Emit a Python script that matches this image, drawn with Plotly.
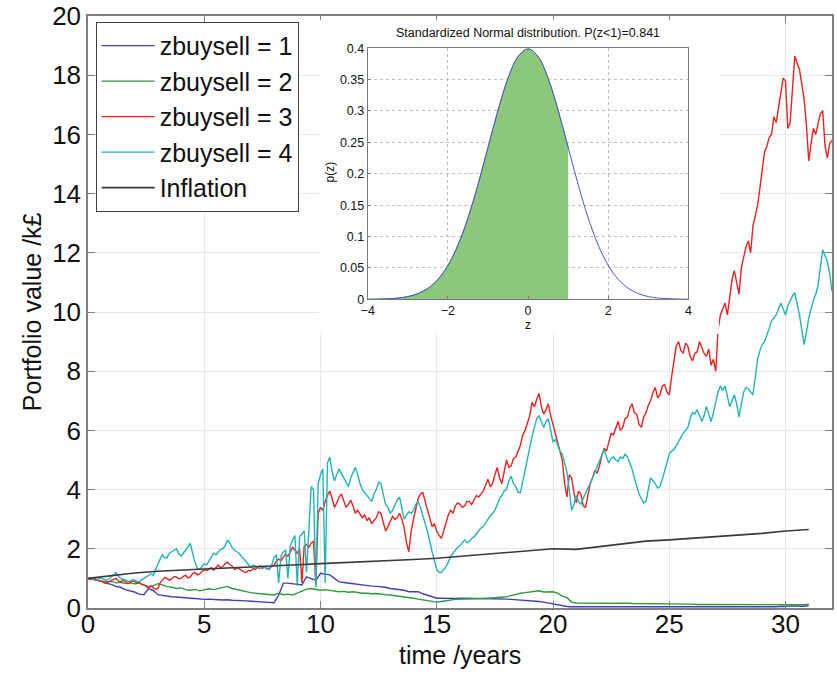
import plotly.graph_objects as go

# ---------------- data ----------------
years = [round(0.2 * i, 1) for i in range(161)]        # grid for zbuysell 1, 2
years_fine = [round(0.1 * i, 1) for i in range(321)]   # grid for zbuysell 3, 4

z1_values = [  # zbuysell = 1
    1.00, 0.97, 0.93, 0.90, 0.83,  0.80, 0.73, 0.70, 0.62, 0.58,
    0.54, 0.47, 0.45, 0.65, 0.60,  0.45, 0.42, 0.40, 0.38, 0.37,
    0.35, 0.34, 0.33, 0.32, 0.30,  0.29, 0.30, 0.28, 0.28, 0.27,
    0.28, 0.26, 0.26, 0.25, 0.24,  0.23, 0.22, 0.21, 0.20, 0.19,
    0.18, 0.43, 0.84, 0.84, 0.82,  0.80, 0.78, 1.05, 0.98, 0.93,
    1.17, 1.15, 1.12, 1.00, 0.88,  0.86, 0.84, 0.80, 0.78, 0.77,
    0.76, 0.74, 0.73, 0.72, 0.70,  0.66, 0.64, 0.62, 0.60, 0.55,
    0.56, 0.55, 0.48, 0.43, 0.37,  0.33, 0.33, 0.32, 0.33, 0.32,
    0.33, 0.32, 0.33, 0.32, 0.32,  0.32, 0.31, 0.31, 0.30, 0.30,
    0.30, 0.29, 0.28, 0.28, 0.27,  0.25, 0.24, 0.22, 0.20, 0.17,
    0.15, 0.11, 0.07, 0.05, 0.04,  0.04, 0.03, 0.04, 0.03, 0.04,
    0.03, 0.04, 0.03, 0.03, 0.04,  0.03, 0.03, 0.04, 0.03, 0.03,
    0.03, 0.04, 0.03, 0.03, 0.03,  0.04, 0.03, 0.03, 0.04, 0.03,
    0.03, 0.03, 0.04, 0.03, 0.03,  0.04, 0.03, 0.03, 0.04, 0.03,
    0.03, 0.04, 0.03, 0.04, 0.03,  0.04, 0.03, 0.05, 0.04, 0.06,
    0.05, 0.07, 0.06, 0.07, 0.06,  0.08,
]

z2_values = [  # zbuysell = 2
    1.00, 0.97, 0.95, 0.92, 0.88,  0.90, 0.85, 0.87, 0.83, 0.85,
    0.82, 0.84, 0.78, 0.72, 0.75,  0.82, 0.78, 0.72, 0.70, 0.66,
    0.68, 0.62, 0.60, 0.63, 0.58,  0.62, 0.65, 0.62, 0.66, 0.70,
    0.73, 0.66, 0.62, 0.58, 0.54,  0.52, 0.50, 0.49, 0.47, 0.46,
    0.44, 0.50, 0.45, 0.47, 0.44,  0.50, 0.58, 0.64, 0.66, 0.62,
    0.60, 0.62, 0.60, 0.58, 0.55,  0.56, 0.53, 0.55, 0.52, 0.50,
    0.50, 0.48, 0.49, 0.46, 0.45,  0.44, 0.42, 0.40, 0.39, 0.37,
    0.33, 0.30, 0.27, 0.25, 0.22,  0.20, 0.22, 0.25, 0.28, 0.29,
    0.30, 0.30, 0.31, 0.30, 0.32,  0.32, 0.33, 0.34, 0.36, 0.37,
    0.38, 0.42, 0.47, 0.50, 0.52,  0.54, 0.56, 0.58, 0.54, 0.55,
    0.55, 0.50, 0.40, 0.35, 0.20,  0.17, 0.17, 0.18, 0.17, 0.17,
    0.17, 0.16, 0.17, 0.16, 0.16,  0.16, 0.16, 0.15, 0.15, 0.15,
    0.15, 0.15, 0.14, 0.14, 0.14,  0.14, 0.13, 0.14, 0.13, 0.13,
    0.13, 0.12, 0.13, 0.12, 0.12,  0.12, 0.12, 0.11, 0.12, 0.11,
    0.11, 0.11, 0.10, 0.11, 0.10,  0.10, 0.10, 0.11, 0.10, 0.10,
    0.11, 0.10, 0.11, 0.12, 0.11,  0.13,
]

z3_values = [  # zbuysell = 3 (one row per year)
    1.00, 0.96, 0.97, 1.00, 0.95, 0.91, 0.90, 0.84, 0.85, 0.90,
    0.92, 0.97, 1.00, 0.92, 0.88, 0.93, 0.90, 0.82, 0.85, 0.91,
    0.90, 0.84, 0.88, 0.80, 0.78, 0.72, 0.68, 0.74, 0.70, 0.64,
    0.65, 0.85, 0.95, 1.03, 1.00, 0.94, 0.98, 1.06, 1.05, 0.99,
    1.00, 1.07, 1.10, 1.02, 1.05, 1.16, 1.20, 1.12, 1.15, 1.24,
    1.30, 1.26, 1.32, 1.36, 1.28, 1.38, 1.45, 1.36, 1.40, 1.50,
    1.55, 1.46, 1.42, 1.30, 1.35, 1.33, 1.28, 1.22, 1.20, 1.27,
    1.25, 1.33, 1.30, 1.38, 1.42, 1.34, 1.38, 1.32, 1.35, 1.40,
    1.45, 1.58, 1.65, 1.60, 1.70, 1.82, 1.75, 1.92, 2.05, 1.95,
    1.85, 2.00, 0.85, 2.10, 2.15, 2.05, 2.20, 2.25, 0.80, 3.20,
    3.40, 3.30, 3.60, 3.80, 3.95, 3.70, 3.40, 3.55, 3.75, 3.85,
    3.60, 3.40, 3.50, 3.65, 3.45, 3.20, 3.30, 3.15, 3.05, 3.15,
    2.95, 3.05, 2.85, 2.95, 3.05, 3.25, 3.20, 2.90, 2.60, 2.75,
    2.90, 3.10, 3.00, 3.05, 3.20, 3.00, 2.70, 2.20, 1.90, 2.60,
    3.00, 3.40, 3.70, 3.85, 3.90, 3.60, 3.30, 3.00, 2.75, 2.85,
    2.60, 2.45, 2.35, 2.60, 2.90, 3.15, 3.30, 3.20, 3.45, 3.55,
    3.50, 3.40, 3.45, 3.60, 3.60, 3.50, 3.65, 3.80, 3.75, 3.85,
    3.95, 4.15, 4.35, 4.10, 4.20, 4.50, 4.75, 4.40, 4.20, 4.60,
    5.00, 4.75, 4.80, 5.05, 5.10, 5.30, 5.50, 5.85, 6.00, 6.25,
    6.50, 6.95, 6.80, 7.05, 7.25, 6.80, 6.55, 6.70, 6.90, 6.50,
    6.20, 5.90, 5.60, 5.30, 5.00, 4.20, 3.75, 4.50, 4.40, 3.90,
    3.55, 3.95, 3.85, 3.45, 3.40, 3.80, 4.20, 4.40, 4.65, 4.55,
    4.80, 5.15, 5.40, 5.30, 5.65, 5.90, 5.85, 6.10, 6.30, 6.00,
    6.10, 6.40, 6.45, 6.75, 6.90, 6.60, 6.55, 6.20, 6.10, 6.45,
    6.60, 6.85, 7.00, 7.30, 7.45, 7.10, 7.20, 7.50, 7.55, 7.30,
    7.20, 7.80, 8.40, 8.85, 9.00, 8.70, 8.60, 8.95, 8.85, 8.50,
    8.35, 8.60, 8.65, 9.00, 8.80, 8.60, 8.50, 8.75, 8.20, 8.40,
    8.00, 9.40, 9.90, 10.10, 10.30, 9.90, 10.60, 11.10, 11.40, 11.00,
    10.60, 11.50, 11.90, 12.20, 12.40, 12.00, 12.90, 13.30, 13.60, 14.20,
    14.90, 15.40, 15.60, 15.90, 16.00, 16.60, 16.40, 16.90, 17.30, 17.90,
    17.80, 16.20, 16.40, 17.60, 18.65, 18.40, 18.20, 17.70, 17.20, 16.30,
    15.10, 15.70, 16.20, 16.00, 16.40, 16.70, 16.80, 15.60, 15.20, 15.70,
    15.80,
]

z4_values = [  # zbuysell = 4 (one row per year)
    1.00, 1.02, 0.98, 0.93, 0.95, 1.00, 1.00, 0.96, 0.93, 0.98,
    1.05, 1.12, 1.20, 1.08, 1.00, 0.97, 0.95, 0.90, 0.90, 0.95,
    0.95, 0.90, 0.88, 0.95, 1.00, 1.06, 1.12, 1.15, 1.10, 1.30,
    1.50, 1.65, 1.80, 1.70, 1.70, 1.85, 1.90, 1.95, 2.00, 1.85,
    1.75, 1.85, 1.95, 2.05, 2.18, 1.85, 1.55, 1.35, 1.30, 1.40,
    1.50, 1.45, 1.60, 1.75, 1.85, 1.80, 1.90, 1.98, 2.00, 2.10,
    2.30, 2.20, 2.05, 1.95, 1.90, 1.85, 1.75, 1.65, 1.55, 1.45,
    1.38, 1.45, 1.40, 1.35, 1.32, 1.40, 1.38, 1.35, 1.30, 1.45,
    1.70, 1.80, 0.85, 1.75, 1.90, 1.95, 1.00, 2.10, 2.30, 2.45,
    0.75, 2.40, 2.50, 2.60, 1.20, 2.80, 4.10, 4.00, 0.70, 4.20,
    4.50, 4.70, 0.85, 4.90, 5.10, 4.60, 4.30, 4.50, 4.70, 4.55,
    4.40, 4.20, 4.10, 4.40, 4.60, 4.75, 4.50, 4.20, 4.00, 3.90,
    3.80, 3.70, 3.60, 3.85, 4.00, 4.25, 4.20, 3.85, 3.50, 3.40,
    3.20, 3.30, 3.50, 3.65, 3.75, 3.40, 3.00, 3.15, 3.25, 3.20,
    3.30, 3.50, 3.60, 3.40, 3.10, 2.85, 2.60, 2.20, 1.90, 1.60,
    1.30, 1.20, 1.20, 1.30, 1.40, 1.55, 1.75, 1.85, 1.95, 2.05,
    2.10, 2.20, 2.30, 2.20, 2.25, 2.35, 2.40, 2.50, 2.60, 2.70,
    2.75, 2.90, 3.00, 3.10, 3.20, 3.30, 3.50, 3.70, 3.80, 3.95,
    4.00, 4.30, 4.45, 4.20, 4.10, 3.90, 3.90, 4.30, 4.65, 5.00,
    5.40, 5.80, 6.10, 6.40, 6.50, 6.30, 6.10, 6.30, 6.40, 6.00,
    5.60, 5.70, 5.50, 5.30, 5.20, 4.90, 4.60, 4.00, 3.30, 3.50,
    3.80, 3.60, 3.50, 3.70, 3.90, 4.05, 4.20, 4.40, 4.60, 4.75,
    4.95, 5.20, 5.35, 5.10, 4.90, 5.05, 5.10, 5.00, 4.95, 5.10,
    5.05, 5.20, 5.10, 4.90, 4.70, 4.40, 4.10, 3.85, 3.70, 3.55,
    3.60, 4.00, 4.40, 4.30, 4.20, 4.05, 4.10, 4.35, 4.60, 4.90,
    5.20, 5.30, 5.35, 5.50, 5.60, 5.75, 5.90, 6.00, 6.10, 6.40,
    6.60, 6.55, 6.70, 6.50, 6.30, 6.50, 6.80, 6.55, 6.30, 6.60,
    7.00, 7.30, 7.50, 7.35, 7.50, 7.10, 6.80, 7.00, 7.20, 6.90,
    6.45, 6.90, 7.30, 7.45, 7.40, 7.30, 7.20, 7.80, 8.40, 8.70,
    8.90, 9.00, 9.20, 9.45, 9.70, 9.80, 9.90, 10.10, 10.30, 10.10,
    9.90, 10.20, 10.40, 10.55, 10.65, 10.30, 9.90, 9.40, 8.90, 9.30,
    9.80, 10.10, 10.40, 10.60, 10.90, 11.50, 12.10, 11.90, 11.70, 11.30,
    10.70,
]

inflation_years = [0, 1, 2, 3, 4, 5, 6, 7, 8, 9, 10, 11, 12, 13, 14, 15,
                   16, 17, 18, 19, 20, 21, 22, 23, 24, 25, 26, 27, 28, 29, 30, 31]
inflation_values = [1.00, 1.10, 1.18, 1.24, 1.29, 1.32, 1.35, 1.38, 1.42, 1.46,
                    1.50, 1.53, 1.56, 1.60, 1.64, 1.68, 1.74, 1.80, 1.86, 1.94,
                    2.00, 1.98, 2.08, 2.18, 2.26, 2.30, 2.35, 2.40, 2.45, 2.52,
                    2.60, 2.65]

series_names = ["zbuysell = 1", "zbuysell = 2", "zbuysell = 3", "zbuysell = 4"]
series_colors = ["#3f3fbf", "#2f9a3a", "#ee2020", "#22b4b4"]

# inset: standard normal density
z_values = [-4.0, -3.75, -3.5, -3.25, -3.0, -2.75, -2.5, -2.25, -2.0, -1.75, -1.5,
            -1.25, -1.0, -0.75, -0.5, -0.25, 0.0, 0.25, 0.5, 0.75, 1.0, 1.25,
            1.5, 1.75, 2.0, 2.25, 2.5, 2.75, 3.0, 3.25, 3.5, 3.75, 4.0]
pz_values = [0.0001, 0.0004, 0.0009, 0.0020, 0.0044, 0.0091, 0.0175, 0.0317,
             0.0540, 0.0863, 0.1295, 0.1826, 0.2420, 0.3011, 0.3521, 0.3867,
             0.3989, 0.3867, 0.3521, 0.3011, 0.2420, 0.1826, 0.1295, 0.0863,
             0.0540, 0.0317, 0.0175, 0.0091, 0.0044, 0.0020, 0.0009, 0.0004, 0.0001]
shade_upper = 1.0
inset_title = "Standardized Normal distribution. P(z<1)=0.841"

FONT = "Liberation Sans, Arial, sans-serif"

# ---------------- figure ----------------
fig = go.Figure()
series_x = [years, years, years_fine, years_fine]
series_y = [z1_values, z2_values, z3_values, z4_values]
for name, xs, vals, col in zip(series_names, series_x, series_y, series_colors):
    fig.add_trace(go.Scatter(x=xs, y=vals, mode="lines", name=name,
                             line=dict(color=col, width=1.4), xaxis="x", yaxis="y"))
fig.add_trace(go.Scatter(x=inflation_years, y=inflation_values, mode="lines", name="Inflation",
                         line=dict(color="#3a3a3a", width=1.6), xaxis="x", yaxis="y"))

# white panel behind the inset (own subplot so its background hides the main chart)
fig.add_trace(go.Scatter(x=[0.5], y=[0.5], mode="markers", marker=dict(opacity=0),
                         showlegend=False, hoverinfo="skip", xaxis="x2", yaxis="y2"))

# inset
n_shade = sum(1 for z in z_values if z <= shade_upper)
fig.add_trace(go.Scatter(x=z_values[:n_shade], y=pz_values[:n_shade], mode="lines",
                         line=dict(color="#4f8f5f", width=0.8, shape="spline"),
                         fill="tozeroy", fillcolor="#8dc77b",
                         showlegend=False, hoverinfo="skip", xaxis="x3", yaxis="y3"))
fig.add_trace(go.Scatter(x=z_values, y=pz_values, mode="lines",
                         line=dict(color="#4a56c8", width=1, shape="spline"),
                         showlegend=False, hoverinfo="skip", xaxis="x3", yaxis="y3"))

axis_common = dict(showline=True, linecolor="#808080", linewidth=1.5, mirror="ticks",
                   ticks="inside", ticklen=7, tickcolor="#808080",
                   showgrid=True, gridcolor="#e8e8e8", gridwidth=1, zeroline=False,
                   ticklabeloverflow="allow",
                   tickfont=dict(family=FONT, size=26, color="#111"))
inset_axis = dict(showline=True, mirror=True, linecolor="#7a7a7a", linewidth=1,
                  ticks="inside", ticklen=3, tickcolor="#7a7a7a",
                  showgrid=True, gridcolor="#bdbdbd", griddash="dot", gridwidth=1,
                  zeroline=False, ticklabeloverflow="allow",
                  tickfont=dict(family=FONT, size=12.5, color="#111"))

fig.update_layout(
    width=837, height=675,
    margin=dict(l=88, r=1, t=14, b=67),
    paper_bgcolor="white", plot_bgcolor="white",
    font=dict(family=FONT, color="#111"),
    showlegend=True,
    legend=dict(x=0.0103, y=0.99, xanchor="left", yanchor="top",
                bgcolor="white", bordercolor="#404040", borderwidth=1,
                font=dict(family=FONT, size=25, color="#111"),
                itemwidth=53, tracegroupgap=0),
    xaxis=dict(domain=[0, 1], range=[0, 32], tickvals=[0, 5, 10, 15, 20, 25, 30],
               ticklabelstandoff=-8, **axis_common),
    yaxis=dict(domain=[0, 1], range=[0, 20], tickvals=list(range(0, 21, 2)), **axis_common),
    xaxis2=dict(domain=[0.310, 0.848], range=[0, 1], anchor="y2", showgrid=False, zeroline=False,
                showline=False, showticklabels=False, ticks=""),
    yaxis2=dict(domain=[0.463, 0.993], range=[0, 1], anchor="x2", showgrid=False, zeroline=False,
                showline=False, showticklabels=False, ticks=""),
    xaxis3=dict(domain=[0.376, 0.807], range=[-4, 4], anchor="y3",
                tickvals=[-4, -2, 0, 2, 4], **inset_axis),
    yaxis3=dict(domain=[0.5214, 0.9456], range=[0, 0.4], anchor="x3",
                tickvals=[0, 0.05, 0.1, 0.15, 0.2, 0.25, 0.3, 0.35, 0.4],
                ticktext=["0", "0.05", "0.1", "0.15", "0.2", "0.25", "0.3", "0.35", "0.4"],
                **inset_axis),
    annotations=[
        dict(text="time /years", xref="paper", yref="paper", x=0.5, y=-0.08,
             xanchor="center", yanchor="middle", showarrow=False,
             font=dict(family=FONT, size=25, color="#111")),
        dict(text="Portfolio value /k£", xref="paper", yref="paper", x=-0.075, y=0.5,
             xanchor="center", yanchor="middle", showarrow=False, textangle=-90,
             font=dict(family=FONT, size=25, color="#111")),
        dict(text=inset_title, xref="paper", yref="paper", x=0.591, y=0.971,
             xanchor="center", yanchor="middle", showarrow=False,
             font=dict(family=FONT, size=12.5, color="#111")),
        dict(text="p(z)", xref="paper", yref="paper", x=0.325, y=0.737,
             xanchor="center", yanchor="middle", showarrow=False, textangle=-90,
             font=dict(family=FONT, size=12, color="#111")),
        dict(text="z", xref="paper", yref="paper", x=0.591, y=0.478,
             xanchor="center", yanchor="middle", showarrow=False,
             font=dict(family=FONT, size=12, color="#111")),
    ],
)

fig.write_html("out.html")
